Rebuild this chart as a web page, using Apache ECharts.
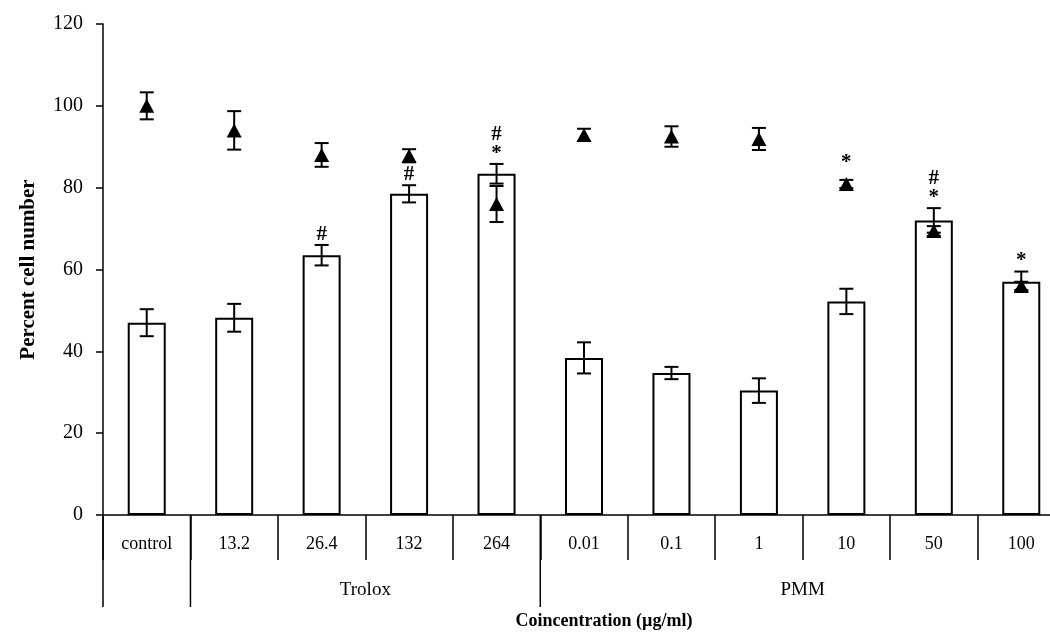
<!DOCTYPE html>
<html><head><meta charset="utf-8">
<script src="https://cdn.jsdelivr.net/npm/echarts@6/dist/echarts.min.js"></script>
<style>html,body{margin:0;padding:0;background:#fff;overflow:hidden}#c{width:1075px;height:634px}</style>
</head><body><div id="c"></div>
<script>
// ---- data ----
const categories = ['control', '13.2', '26.4', '132', '264', '0.01', '0.1', '1', '10', '50', '100'];
const barValues  = [47, 48.2, 63.5, 78.5, 83.4, 38.4, 34.7, 30.4, 52.2, 72, 57];
const barErrors  = [3.3, 3.4, 2.5, 2.1, 2.4, 3.8, 1.5, 3.0, 3.1, 3.0, 2.5];
const triValues  = [100, 94, 88, 87.8, 76, 92.9, 92.5, 91.9, 80.9, 69.4, 56];
const triErrors  = [3.3, 4.7, 2.9, 1.6, 4.4, 1.5, 2.5, 2.7, 1.0, 1.2, 1.0];
const barMarks   = ['', '', '#', '#', '#\n*', '', '', '', '', '#\n*', '*'];
const triMarks   = ['', '', '', '', '', '', '', '', '*', '', ''];
const groupNames  = ['', 'Trolox', 'PMM'];
const groupStarts = [0, 1, 5];
const groupEnds   = [1, 5, 11];
const yTicks = [0, 20, 40, 60, 80, 100, 120];

const FONT = '"Liberation Serif", "Times New Roman", "DejaVu Serif", serif';

function errRender(capHalf) {
  return function (params, api) {
    const i = api.value(0), v = api.value(1), e = api.value(2);
    const t = api.coord([i, v + e]), b = api.coord([i, v - e]);
    const st = { stroke: '#000', lineWidth: 2 };
    return { type: 'group', children: [
      { type: 'line', shape: { x1: t[0], y1: t[1], x2: b[0], y2: b[1] }, style: st },
      { type: 'line', shape: { x1: t[0] - capHalf, y1: t[1], x2: t[0] + capHalf, y2: t[1] }, style: st },
      { type: 'line', shape: { x1: b[0] - capHalf, y1: b[1], x2: b[0] + capHalf, y2: b[1] }, style: st }
    ]};
  };
}

function markRender(marks, lift) {
  return function (params, api) {
    const txt = marks[params.dataIndex];
    if (!txt) return null;
    const p = api.coord([api.value(0), api.value(1)]);
    return { type: 'text', x: p[0], y: p[1] - lift, style: {
      text: txt, fill: '#000', align: 'center', verticalAlign: 'bottom',
      font: 'bold 21px ' + FONT, lineHeight: 19 } };
  };
}

const chart = echarts.init(document.getElementById('c'));
chart.setOption({
  animation: false,
  backgroundColor: '#fff',
  grid: { left: 103, top: 24, width: 962, height: 491, containLabel: false, outerBoundsMode: 'none' },
  xAxis: {
    type: 'category', data: categories,
    axisLine: { lineStyle: { color: '#000', width: 1.5 } },
    axisTick: { show: true, interval: 0, length: 45, lineStyle: { color: '#000', width: 1.5 } },
    axisLabel: { interval: 0, margin: 20, color: '#000', fontFamily: FONT, fontSize: 18 },
    name: 'Coincentration (µg/ml)', nameLocation: 'middle', nameGap: 97,
    nameTextStyle: { color: '#000', fontFamily: FONT, fontSize: 18, fontWeight: 'bold', padding: [0, 0, 0, 40] }
  },
  yAxis: {
    type: 'value', min: yTicks[0], max: yTicks[yTicks.length - 1], interval: 20,
    splitLine: { show: false },
    axisLine: { show: true, lineStyle: { color: '#000', width: 1.5 } },
    axisTick: { show: true, length: 7, lineStyle: { color: '#000', width: 1.5 } },
    axisLabel: { margin: 20, color: '#000', fontFamily: FONT, fontSize: 20 },
    name: 'Percent cell number', nameLocation: 'middle', nameGap: 64, nameRotate: 90,
    nameTextStyle: { color: '#000', fontFamily: FONT, fontSize: 21, fontWeight: 'bold' }
  },
  series: [
    { type: 'bar', data: barValues, barWidth: 38, z: 2,
      itemStyle: { color: '#fff', borderColor: '#000', borderWidth: 2 } },
    { type: 'custom', z: 3, renderItem: errRender(7),
      data: barValues.map((v, i) => [i, v, barErrors[i]]), encode: { x: 0, y: 1 } },
    { type: 'custom', z: 3, renderItem: errRender(7),
      data: triValues.map((v, i) => [i, v, triErrors[i]]), encode: { x: 0, y: 1 } },
    { type: 'scatter', z: 4, data: triValues.map((v, i) => [i, v]),
      symbol: 'triangle', symbolSize: [15, 14], itemStyle: { color: '#000', opacity: 1 } },
    { type: 'custom', z: 5, renderItem: markRender(barMarks, 1),
      data: barValues.map((v, i) => [i, v + barErrors[i]]), encode: { x: 0, y: 1 } },
    { type: 'custom', z: 5, renderItem: markRender(triMarks, 8),
      data: triValues.map((v, i) => [i, v + triErrors[i]]), encode: { x: 0, y: 1 } },
    { type: 'custom', z: 5, clip: false,
      data: groupStarts.map((s, g) => [s, 0]), encode: { x: 0, y: 1 },
      renderItem: function (params, api) {
        const g = params.dataIndex;
        const w = api.size([1, 0])[0];
        const c0 = api.coord([0, 0]);
        const x0 = c0[0] - w / 2, base = c0[1];
        const xs = x0 + groupStarts[g] * w;
        const xm = x0 + (groupStarts[g] + groupEnds[g]) / 2 * w;
        const children = [
          { type: 'line', shape: { x1: xs, y1: base, x2: xs, y2: base + 92 },
            style: { stroke: '#000', lineWidth: 1.5 } }
        ];
        if (groupNames[g]) children.push({ type: 'text', x: xm, y: base + 75, style: {
          text: groupNames[g], fill: '#000', align: 'center', verticalAlign: 'middle',
          font: '19px ' + FONT } });
        return { type: 'group', children };
      } }
  ]
});
</script></body></html>
